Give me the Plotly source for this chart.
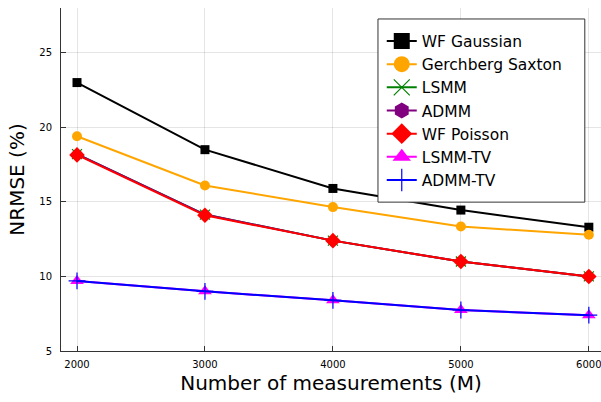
import plotly.graph_objects as go

M = [2000, 3000, 4000, 5000, 6000]
wf_gaussian = [23.0, 18.5, 15.9, 14.45, 13.3]
gerchberg = [19.4, 16.1, 14.65, 13.35, 12.8]
lsmm = [18.2, 14.15, 12.4, 11.0, 10.0]
admm = [18.2, 14.15, 12.4, 11.0, 10.0]
wf_poisson = [18.15, 14.1, 12.4, 11.0, 10.0]
lsmm_tv = [9.7, 9.0, 8.4, 7.75, 7.4]
admm_tv = [9.7, 9.0, 8.4, 7.75, 7.4]

series = [
    ("WF Gaussian", wf_gaussian, "black", "square", 9, None),
    ("Gerchberg Saxton", gerchberg, "orange", "circle", 10, None),
    ("LSMM", lsmm, "green", "x-thin", 10, 1.2),
    ("ADMM", admm, "purple", "hexagon", 10, None),
    ("WF Poisson", wf_poisson, "red", "diamond", 12, None),
    ("LSMM-TV", lsmm_tv, "magenta", "triangle-up", 12, None),
    ("ADMM-TV", admm_tv, "blue", "cross-thin", 12, 1.2),
]

fig = go.Figure()
for name, y, col, sym, size, lw in series:
    marker = dict(symbol=sym, size=size, color=col)
    marker["line"] = dict(color=col, width=lw if lw is not None else 0)
    fig.add_trace(go.Scatter(x=M, y=y, name=name, mode="lines+markers",
                             line=dict(color=col, width=2), marker=marker,
                             showlegend=False))

# legend entries with larger symbols (as in the reference legend)
for name, y, col, sym, size, lw in series:
    marker = dict(symbol=sym, size=20, color=col)
    marker["line"] = dict(color=col, width=lw if lw is not None else 0)
    fig.add_trace(go.Scatter(x=[None], y=[None], name=name, mode="lines+markers",
                             line=dict(color=col, width=2), marker=marker,
                             showlegend=True))

axis_common = dict(showgrid=True, gridcolor="rgba(0,0,0,0.1)", gridwidth=1,
                   showline=True, linecolor="#333333", linewidth=1,
                   ticks="inside", ticklen=5, tickcolor="#333333",
                   zeroline=False, mirror=False, ticklabeloverflow="allow",
                   tickfont=dict(size=10, color="black", family="DejaVu Sans"))

fig.update_layout(
    width=601, height=402,
    margin=dict(l=61, r=0, t=8, b=51),
    paper_bgcolor="white", plot_bgcolor="white",
    font=dict(family="DejaVu Sans", color="black"),
    xaxis=dict(range=[1875, 6095], tickvals=M, ticktext=[str(m) for m in M],
               ticklabelstandoff=4,
               title=dict(text="Number of measurements (M)", font=dict(size=20), standoff=6),
               **axis_common),
    yaxis=dict(range=[5, 28], tickvals=[5, 10, 15, 20, 25],
               ticklabelstandoff=6,
               title=dict(text="NRMSE (%)", font=dict(size=20), standoff=9),
               **axis_common),
    legend=dict(x=0.594, y=0.952, xanchor="left", yanchor="top",
                borderwidth=0, bgcolor="rgba(0,0,0,0)",
                font=dict(size=15.5), tracegroupgap=0, itemsizing="trace"),
    shapes=[dict(type="rect", xref="paper", yref="paper",
                 x0=0.587, x1=0.970, y0=0.434, y1=0.968,
                 fillcolor="white", line=dict(color="#333333", width=1),
                 layer="above")],
    showlegend=True,
)

fig.write_html("out.html")
